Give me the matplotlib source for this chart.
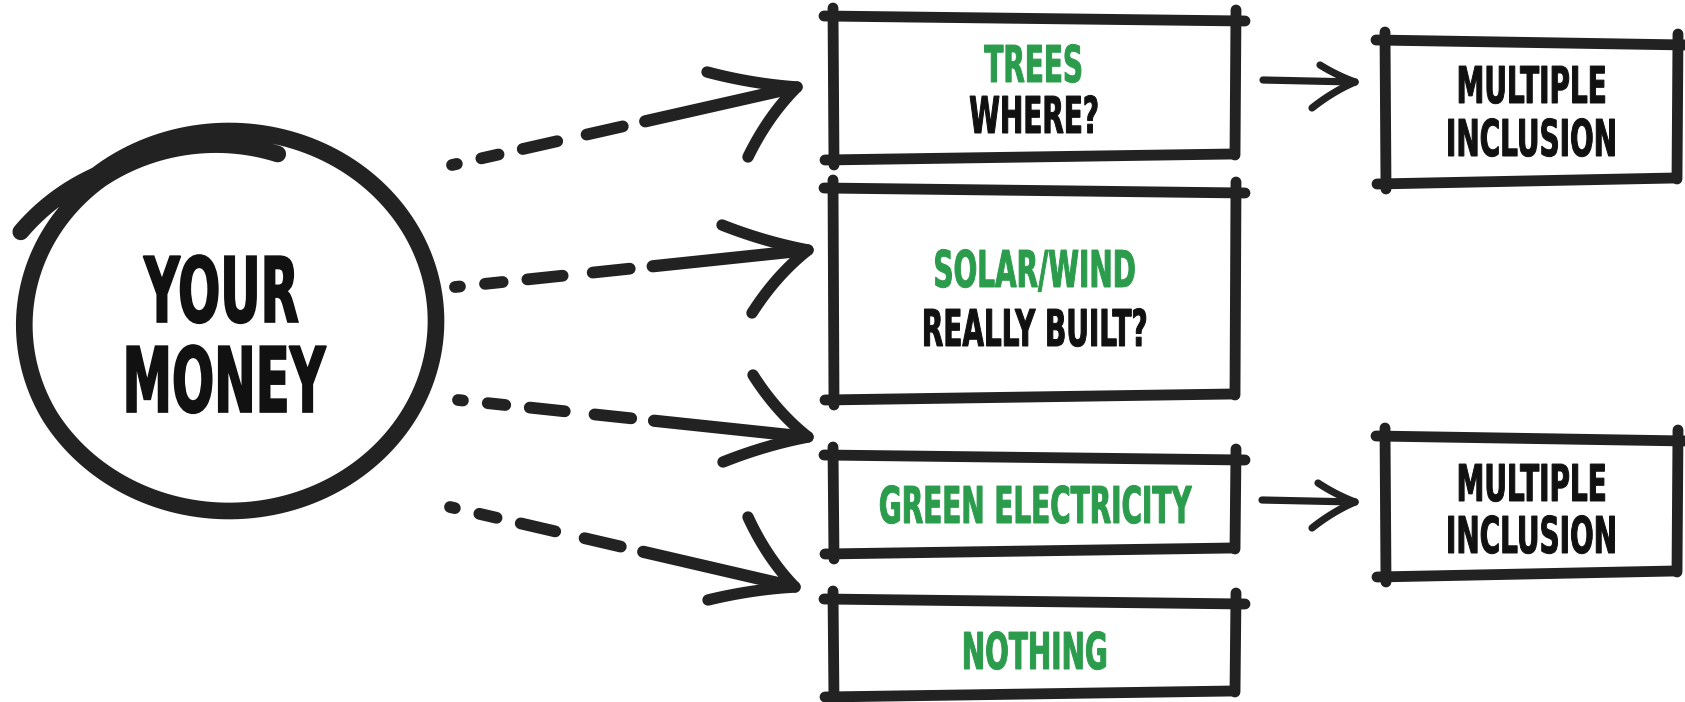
import numpy as np
import matplotlib
matplotlib.use('Agg')
import matplotlib.pyplot as plt
from matplotlib import patheffects
from matplotlib.transforms import Affine2D


# ── Text of the sketch ───────────────────────────────────────────────────────
centre_lines  = ['YOUR', 'MONEY']
option_labels = ['TREES', 'SOLAR/WIND', 'GREEN ELECTRICITY', 'NOTHING']
option_notes  = ['WHERE?', 'REALLY BUILT?', '', '']
side_lines    = ['MULTIPLE', 'INCLUSION']
side_sources  = [0, 2]          # options that lead on to a "multiple inclusion" box

# ── Layout, in pixels of the 1685 x 702 canvas (y grows downwards) ─────────
option_boxes   = [(833, 18, 1236, 157), (833, 190, 1236, 397),
                  (833, 457, 1236, 551), (833, 601, 1236, 694)]
label_baseline = [82, 287, 523, 669]
note_baseline  = [133, 346, None, None]

side_boxes     = [(1385, 42, 1678, 181), (1385, 438, 1678, 574)]
side_baselines = [(103, 156), (501, 553)]
side_arrows    = [((1263, 80), (1355, 82), (1320, 65), (1312, 108)),
                  ((1262, 500), (1355, 502), (1318, 483), (1312, 528))]

arrow_starts = [(452, 165), (455, 287), (458, 400), (450, 507)]
arrow_tips   = [(797, 87), (808, 250), (808, 437), (795, 587)]
barbs_upper  = [(707, 72), (722, 225), (753, 375), (748, 517)]
barbs_lower  = [(748, 157), (752, 313), (723, 462), (708, 600)]
# dot, dashes growing longer, then the solid shaft (fractions of start -> tip)
dash_fracs   = [(0.0, 0.014), (0.085, 0.135), (0.205, 0.305), (0.39, 0.495)]
solid_from   = 0.56

# hand-drawn ring: centre, radii, and a spiral that overshoots at the top-left
ring_centre = (229, 321)
ring_radii  = (207, 190)
ring_phi    = [-155, -130, 150, 230, 285]
ring_r      = [1.11, 1.0, 1.0, 0.97, 0.91]

INK   = '#222222'
GREEN = '#2b9b4c'
TEXT  = '#111111'


class Condense(patheffects.AbstractPathEffect):
    """Squeeze a text path horizontally about its own centre and fatten it a little."""
    def __init__(self, sx=0.55, fatten=1.0):
        super().__init__()
        self.sx = sx
        self.fatten = fatten

    def draw_path(self, renderer, gc, tpath, affine, rgbFace=None):
        bb = tpath.get_extents(affine)
        cx = (bb.x0 + bb.x1) / 2
        squeeze = affine + Affine2D().translate(-cx, 0).scale(self.sx, 1).translate(cx, 0)
        gc0 = renderer.new_gc()
        gc0.copy_properties(gc)
        gc0.set_linewidth(self.fatten)
        gc0.set_foreground(rgbFace)
        gc0.set_joinstyle('miter')
        renderer.draw_path(gc0, tpath, squeeze, rgbFace)
        gc0.restore()


def label(ax, x, y, s, size, color, fatten):
    ax.text(x, y, s, ha='center', va='baseline', fontsize=size, color=color,
            family='DejaVu Sans', fontweight='bold',
            path_effects=[Condense(fatten=fatten)])


def sketch_box(ax, x0, y0, x1, y1, lw=7.8):
    kw = dict(color=INK, lw=lw, solid_capstyle='round')
    ax.plot([x0 - 9, x1 + 9], [y0 - 2, y0 + 3], **kw)
    ax.plot([x0 - 8, x1 - 4], [y1 + 3, y1 - 3], **kw)
    ax.plot([x0, x0 + 1], [y0 - 10, y1 + 8], **kw)
    ax.plot([x1, x1 - 1], [y0 - 8, y1 - 2], **kw)


def barb(ax, tip, end, back, lw):
    tip, end, back = map(np.asarray, (tip, end, back))
    mid = (tip + end) / 2
    ctrl = mid + 0.25 * (back - mid)
    t = np.linspace(0, 1, 30)[:, None]
    pts = (1 - t) ** 2 * tip + 2 * (1 - t) * t * ctrl + t ** 2 * end
    ax.plot(pts[:, 0], pts[:, 1], color=INK, lw=lw, solid_capstyle='round')


def arrow_head(ax, shaft_from, tip, up, low, lw):
    shaft_from, tip = np.asarray(shaft_from, float), np.asarray(tip, float)
    d = (tip - shaft_from) / np.linalg.norm(tip - shaft_from)
    for end in (up, low):
        back = tip - 0.5 * np.linalg.norm(np.asarray(end) - tip) * d
        barb(ax, tip, end, back, lw)


fig = plt.figure(figsize=(16.85, 7.02), dpi=100)
ax = fig.add_axes([0, 0, 1, 1])
ax.set_xlim(0, 1685)
ax.set_ylim(702, 0)
ax.axis('off')

# ── the ring round "YOUR MONEY" ──
phi = np.radians(np.linspace(ring_phi[0], ring_phi[-1], 700))
r = np.interp(phi, np.radians(ring_phi), ring_r)
ax.plot(ring_centre[0] + ring_radii[0] * r * np.cos(phi),
        ring_centre[1] + ring_radii[1] * r * np.sin(phi),
        color=INK, lw=12, solid_capstyle='round', solid_joinstyle='round')
label(ax, 222, 322, centre_lines[0], 65, TEXT, 1.2)
label(ax, 222, 412, centre_lines[1], 65, TEXT, 1.2)

# ── dashed arrows out of the ring ──
for start, tip, up, low in zip(arrow_starts, arrow_tips, barbs_upper, barbs_lower):
    start, tip = np.asarray(start, float), np.asarray(tip, float)
    for f0, f1 in dash_fracs:
        p0, p1 = start + f0 * (tip - start), start + f1 * (tip - start)
        ax.plot([p0[0], p1[0]], [p0[1], p1[1]], color=INK, lw=8.5, solid_capstyle='round')
    p0 = start + solid_from * (tip - start)
    p1 = tip - 0.02 * (tip - start)
    ax.plot([p0[0], p1[0]], [p0[1], p1[1]], color=INK, lw=8.8, solid_capstyle='round')
    arrow_head(ax, start, tip, up, low, 8.2)

# ── the four option boxes ──
xc_opt = (option_boxes[0][0] + option_boxes[0][2]) / 2
for box, name, note, yb, yn in zip(option_boxes, option_labels, option_notes,
                                    label_baseline, note_baseline):
    sketch_box(ax, *box)
    label(ax, xc_opt, yb, name, 36.5, GREEN, 0.7)
    if note:
        label(ax, xc_opt, yn, note, 36.5, TEXT, 0.7)

# ── "multiple inclusion" boxes and their small arrows ──
for box, (y1, y2), (a0, a1, up, low) in zip(side_boxes, side_baselines, side_arrows):
    sketch_box(ax, *box)
    xc = (box[0] + box[2]) / 2
    label(ax, xc, y1, side_lines[0], 36.5, TEXT, 0.7)
    label(ax, xc, y2, side_lines[1], 36.5, TEXT, 0.7)
    ax.plot([a0[0], a1[0]], [a0[1], a1[1]], color=INK, lw=5.2, solid_capstyle='round')
    arrow_head(ax, a0, a1, up, low, 5.2)

fig.savefig('out.png', dpi=100, facecolor='white')
